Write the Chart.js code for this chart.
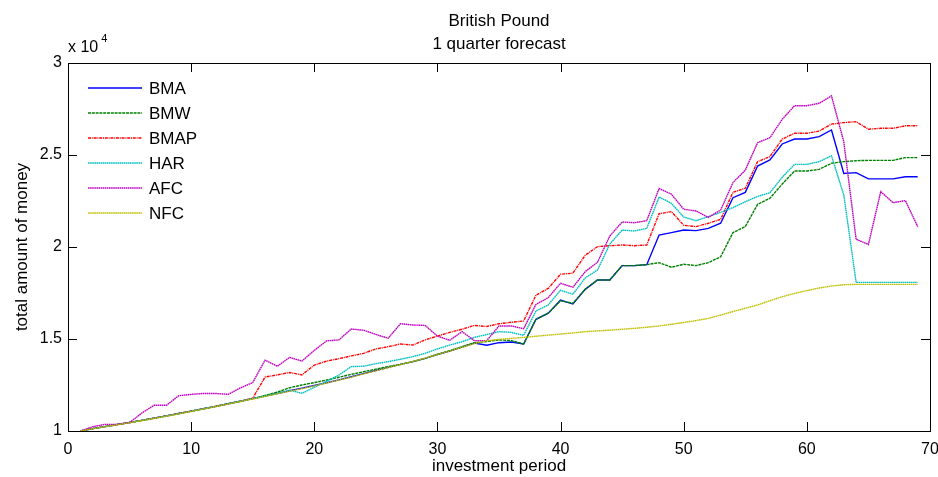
<!DOCTYPE html>
<html>
<head>
<meta charset="utf-8">
<script src="https://cdn.jsdelivr.net/npm/chart.js@4.4.1/dist/chart.umd.min.js"></script>
<style>
    html, body { margin: 0; padding: 0; background: #fff; }
    #wrap { width: 938px; height: 477px; }
</style>
</head>
<body>
<div id="wrap"><canvas id="chart" width="938" height="477"></canvas></div>
<script>
// investment periods 1..69
const periods = [
    1, 2, 3, 4, 5, 6, 7, 8, 9, 10, 11, 12, 13, 14, 15, 16, 17, 18, 19, 20,
    21, 22, 23, 24, 25, 26, 27, 28, 29, 30, 31, 32, 33, 34, 35, 36, 37, 38, 39, 40,
    41, 42, 43, 44, 45, 46, 47, 48, 49, 50, 51, 52, 53, 54, 55, 56, 57, 58, 59, 60,
    61, 62, 63, 64, 65, 66, 67, 68, 69
];

// total amount of money, in units of 10^4
const bma = [
    1.000, 1.013, 1.024, 1.035, 1.046, 1.058, 1.070, 1.082, 1.095, 1.108,
    1.121, 1.134, 1.148, 1.162, 1.176, 1.190, 1.204, 1.219, 1.233, 1.247,
    1.262, 1.278, 1.295, 1.312, 1.329, 1.346, 1.362, 1.377, 1.395, 1.415,
    1.435, 1.456, 1.478, 1.466, 1.480, 1.484, 1.473, 1.607, 1.640, 1.712,
    1.690, 1.770, 1.821, 1.821, 1.899, 1.899, 1.904, 2.065, 2.078, 2.092,
    2.089, 2.101, 2.129, 2.268, 2.297, 2.440, 2.473, 2.560, 2.587, 2.587,
    2.600, 2.636, 2.400, 2.404, 2.370, 2.370, 2.370, 2.382, 2.382
];
const bmw = [
    1.000, 1.013, 1.024, 1.035, 1.046, 1.058, 1.070, 1.082, 1.095, 1.108,
    1.121, 1.134, 1.148, 1.162, 1.176, 1.193, 1.211, 1.235, 1.250, 1.263,
    1.277, 1.292, 1.308, 1.322, 1.336, 1.350, 1.362, 1.377, 1.395, 1.417,
    1.437, 1.458, 1.480, 1.486, 1.495, 1.491, 1.473, 1.607, 1.640, 1.708,
    1.694, 1.770, 1.821, 1.821, 1.899, 1.899, 1.904, 1.915, 1.890, 1.906,
    1.899, 1.915, 1.947, 2.078, 2.111, 2.232, 2.265, 2.342, 2.413, 2.413,
    2.422, 2.455, 2.464, 2.469, 2.471, 2.471, 2.471, 2.486, 2.486
];
const bmap = [
    1.000, 1.013, 1.024, 1.035, 1.046, 1.058, 1.070, 1.082, 1.095, 1.108,
    1.121, 1.134, 1.148, 1.162, 1.178, 1.293, 1.305, 1.318, 1.305, 1.358,
    1.380, 1.393, 1.408, 1.422, 1.446, 1.458, 1.473, 1.467, 1.495, 1.516,
    1.536, 1.553, 1.574, 1.568, 1.583, 1.591, 1.598, 1.738, 1.775, 1.852,
    1.858, 1.955, 2.002, 2.007, 2.011, 2.007, 2.011, 2.181, 2.192, 2.118,
    2.111, 2.129, 2.150, 2.297, 2.319, 2.464, 2.491, 2.587, 2.618, 2.618,
    2.630, 2.668, 2.676, 2.681, 2.640, 2.645, 2.645, 2.659, 2.659
];
const har = [
    1.000, 1.013, 1.024, 1.035, 1.046, 1.058, 1.070, 1.082, 1.095, 1.108,
    1.121, 1.134, 1.148, 1.162, 1.176, 1.190, 1.204, 1.222, 1.205, 1.237,
    1.270, 1.304, 1.350, 1.352, 1.366, 1.377, 1.390, 1.404, 1.422, 1.446,
    1.467, 1.485, 1.509, 1.524, 1.540, 1.536, 1.520, 1.652, 1.685, 1.765,
    1.743, 1.832, 1.875, 2.016, 2.092, 2.087, 2.101, 2.272, 2.237, 2.163,
    2.143, 2.165, 2.188, 2.214, 2.246, 2.275, 2.295, 2.379, 2.449, 2.449,
    2.464, 2.496, 2.283, 1.808, 1.808, 1.808, 1.808, 1.808, 1.808
];
const afc = [
    1.000, 1.023, 1.036, 1.036, 1.045, 1.098, 1.140, 1.140, 1.192, 1.199,
    1.204, 1.204, 1.199, 1.234, 1.263, 1.385, 1.352, 1.400, 1.380, 1.438,
    1.490, 1.495, 1.554, 1.548, 1.525, 1.504, 1.583, 1.576, 1.574, 1.516,
    1.493, 1.540, 1.491, 1.491, 1.571, 1.571, 1.556, 1.688, 1.725, 1.803,
    1.781, 1.866, 1.917, 2.060, 2.136, 2.132, 2.143, 2.318, 2.287, 2.205,
    2.196, 2.161, 2.201, 2.350, 2.418, 2.567, 2.594, 2.694, 2.768, 2.768,
    2.781, 2.821, 2.572, 2.042, 2.014, 2.301, 2.241, 2.252, 2.111
];
const nfc = [
    1.000, 1.012, 1.023, 1.034, 1.045, 1.056, 1.068, 1.080, 1.093, 1.106,
    1.119, 1.132, 1.146, 1.160, 1.174, 1.188, 1.202, 1.216, 1.230, 1.245,
    1.261, 1.277, 1.293, 1.310, 1.327, 1.344, 1.361, 1.378, 1.396, 1.415,
    1.435, 1.455, 1.475, 1.490, 1.498, 1.503, 1.509, 1.515, 1.521, 1.527,
    1.533, 1.540, 1.544, 1.548, 1.553, 1.558, 1.564, 1.571, 1.580, 1.590,
    1.600, 1.612, 1.630, 1.649, 1.667, 1.685, 1.708, 1.730, 1.748, 1.763,
    1.777, 1.788, 1.795, 1.797, 1.797, 1.797, 1.797, 1.797, 1.797
];

const seriesNames = ['BMA', 'BMW', 'BMAP', 'HAR', 'AFC', 'NFC'];
const seriesValues = [bma, bmw, bmap, har, afc, nfc];
const seriesColors = ['#0000ff', '#008000', '#ff0000', '#00bfbf', '#bf00bf', '#bfbf00'];
const seriesDashes = [[], [3, 0.8], [3, 0.8, 1, 0.8], [1.6, 0.5], [1.6, 0.5], [1.6, 0.5]];

const xTicks = [0, 10, 20, 30, 40, 50, 60, 70];
const yTicks = [1, 1.5, 2, 2.5, 3];

const FONT = "'Liberation Sans', Arial, sans-serif";
const TICK_SIZE = 16;
const LABEL_SIZE = 17;

const datasets = seriesNames.map((name, i) => ({
    label: name,
    data: periods.map((p, j) => ({ x: p, y: seriesValues[i][j] })),
    borderColor: seriesColors[i],
    backgroundColor: seriesColors[i],
    borderWidth: 1.4,
    borderDash: seriesDashes[i],
    pointRadius: 0,
    tension: 0,
    fill: false,
    // later series drawn on top, like the original plot
    order: seriesNames.length - i
}));

// box, inward ticks, titles and the in-plot legend
const decorations = {
    id: 'decorations',
    afterDraw(chart) {
        const { ctx, chartArea: a, scales } = chart;
        ctx.save();
        ctx.strokeStyle = '#000';
        ctx.lineWidth = 1;
        ctx.strokeRect(a.left + 0.5, a.top + 0.5, a.right - a.left, a.bottom - a.top);

        const tl = 9;
        ctx.beginPath();
        xTicks.forEach(v => {
            const px = Math.round(scales.x.getPixelForValue(v)) + 0.5;
            ctx.moveTo(px, a.bottom); ctx.lineTo(px, a.bottom - tl);
            ctx.moveTo(px, a.top); ctx.lineTo(px, a.top + tl);
        });
        yTicks.forEach(v => {
            const py = Math.round(scales.y.getPixelForValue(v)) + 0.5;
            ctx.moveTo(a.left, py); ctx.lineTo(a.left + tl, py);
            ctx.moveTo(a.right, py); ctx.lineTo(a.right - tl, py);
        });
        ctx.stroke();

        ctx.fillStyle = '#000';
        ctx.font = LABEL_SIZE + 'px ' + FONT;
        ctx.textAlign = 'center';
        ctx.textBaseline = 'middle';
        const cx = (a.left + a.right) / 2;
        ctx.fillText('British Pound', cx, 21);
        ctx.fillText('1 quarter forecast', cx, 44);

        ctx.textAlign = 'left';
        ctx.font = TICK_SIZE + 'px ' + FONT;
        ctx.fillText('x 10', 68, 48);
        const w = ctx.measureText('x 10').width;
        ctx.font = '11px ' + FONT;
        ctx.fillText('4', 68 + w + 3, 39);

        // legend
        ctx.font = LABEL_SIZE + 'px ' + FONT;
        chart.data.datasets.forEach((ds, i) => {
            const y = 88 + 25 * i;
            ctx.strokeStyle = ds.borderColor;
            ctx.lineWidth = 1.4;
            ctx.setLineDash(ds.borderDash);
            ctx.beginPath();
            ctx.moveTo(88, y); ctx.lineTo(142, y);
            ctx.stroke();
            ctx.setLineDash([]);
            ctx.fillStyle = '#000';
            ctx.fillText(ds.label, 149, y + 1);
        });
        ctx.restore();
    }
};

new Chart(document.getElementById('chart'), {
    type: 'line',
    data: { datasets },
    options: {
        responsive: false,
        animation: false,
        layout: { padding: { top: 63, right: 8, left: 0, bottom: 0 } },
        plugins: {
            legend: { display: false },
            title: { display: false },
            tooltip: { enabled: false }
        },
        scales: {
            x: {
                type: 'linear',
                min: 0,
                max: 70,
                afterFit(s) {
                    s.height = 46;
                    // keep the plot box at the same place as the original figure
                    s.paddingLeft = 0;
                    s.paddingRight = 0;
                },
                afterBuildTicks(s) { s.ticks = xTicks.map(v => ({ value: v })); },
                ticks: { color: '#000', font: { family: FONT, size: TICK_SIZE }, padding: 9, maxRotation: 0 },
                grid: { display: false, drawTicks: false },
                border: { display: false },
                title: {
                    display: true,
                    text: 'investment period',
                    color: '#000',
                    font: { family: FONT, size: LABEL_SIZE },
                    padding: { top: 0, bottom: 0 }
                }
            },
            y: {
                min: 1,
                max: 3,
                afterFit(s) {
                    s.width = 68;
                    s.paddingTop = 0;
                    s.paddingBottom = 0;
                },
                afterBuildTicks(s) { s.ticks = yTicks.map(v => ({ value: v })); },
                ticks: {
                    color: '#000',
                    font: { family: FONT, size: TICK_SIZE },
                    padding: 6,
                    callback: v => String(v)
                },
                grid: { display: false, drawTicks: false },
                border: { display: false },
                title: {
                    display: true,
                    text: 'total amount of money',
                    color: '#000',
                    font: { family: FONT, size: LABEL_SIZE },
                    padding: { top: 12, bottom: 0 }
                }
            }
        }
    },
    plugins: [decorations]
});
</script>
</body>
</html>
